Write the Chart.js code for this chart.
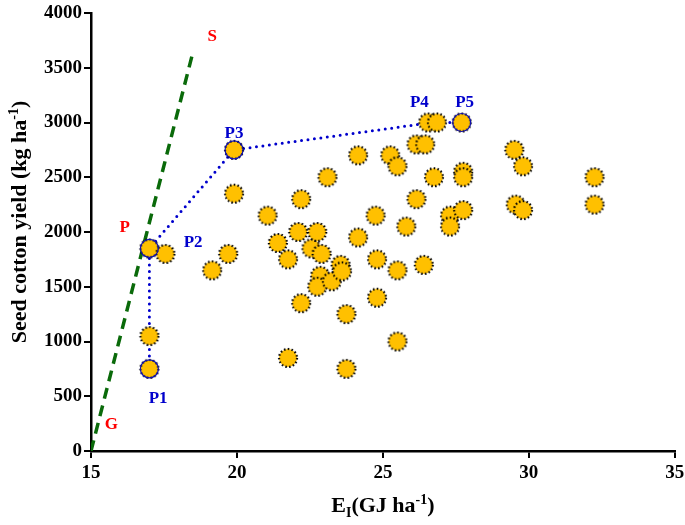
<!DOCTYPE html>
<html lang="en">
<head>
<meta charset="UTF-8">
<script src="https://cdn.jsdelivr.net/npm/chart.js"></script>
<title>Seed cotton yield vs energy input</title>
<style>
  html, body { margin: 0; padding: 0; background: #fff; }
  #wrap { width: 685px; height: 525px; }
</style>
</head>
<body>
<div id="wrap"><canvas id="chart" width="685" height="525"></canvas></div>
<script>
// energy input (GJ/ha) and seed cotton yield (kg/ha) of each farm
var energyIn = [17.0, 17.0, 17.0, 17.55, 19.15, 19.7, 19.9, 19.9, 21.05, 21.4,
  21.75, 21.75, 22.1, 22.2, 22.2, 22.55, 22.75, 22.9, 22.85, 22.75,
  23.1, 23.25, 23.55, 23.6, 23.75, 23.75, 24.15, 24.15, 24.75, 24.8,
  24.8, 25.25, 25.5, 25.5, 25.5, 25.8, 26.15, 26.45, 26.15, 26.4,
  26.55, 26.85, 27.7, 26.75, 27.3, 27.3, 27.75, 27.75, 27.75, 29.5,
  29.8, 29.55, 29.8, 32.25, 32.25];
var yieldKg = [750, 1050, 1850, 1800, 1650, 1800, 2350, 2750, 2150, 1900,
  1750, 850, 2000, 2300, 1350, 1850, 2000, 1800, 1600, 1500,
  2500, 1550, 1700, 1640, 1250, 750, 2700, 1950, 2150, 1750,
  1400, 2700, 2600, 1650, 1000, 2050, 2800, 2800, 2300, 1700,
  3000, 3000, 3000, 2500, 2150, 2050, 2550, 2500, 2200, 2750,
  2600, 2250, 2200, 2500, 2250];

// efficient frontier P1 -> P -> P3 -> P4 -> P5
var frontierX = [17.0, 17.0, 19.9, 26.7, 27.7];
var frontierY = [750, 1850, 2750, 3000, 3000];
// frontier farms that get a blue ring
var ringX = [17.0, 17.0, 19.9, 27.7];
var ringY = [750, 1850, 2750, 3000];

// G-S line
var gsX = [15, 18.5];
var gsY = [0, 3650];

// text marks placed in data units
var markText = ['S', 'P', 'G', 'P1', 'P2', 'P3', 'P4', 'P5'];
var markX = [19.15, 16.15, 15.7, 17.3, 18.5, 19.9, 26.25, 27.8];
var markY = [3780, 2040, 245, 475, 1900, 2900, 3180, 3180];
var markColor = ['red', 'red', 'red', '#0000CC', '#0000CC', '#0000CC', '#0000CC', '#0000CC'];

var xTicks = [15, 20, 25, 30, 35];
var yTicks = [0, 500, 1000, 1500, 2000, 2500, 3000, 3500, 4000];

var serif = '"Liberation Serif", "Times New Roman", serif';

// yellow dot with dotted black rim
function makeDot() {
  var c = document.createElement('canvas');
  c.width = 22; c.height = 22;
  var g = c.getContext('2d');
  g.beginPath();
  g.arc(11, 11, 9, 0, Math.PI * 2);
  g.fillStyle = '#FFC000';
  g.fill();
  g.setLineDash([1.6, 2.2]);
  g.lineWidth = 2.2;
  g.strokeStyle = '#000';
  g.stroke();
  return c;
}
var dot = makeDot();

function toPts(xs, ys) { return xs.map(function (x, i) { return { x: x, y: ys[i] }; }); }

var textPlugin = {
  id: 'marks',
  afterDatasetsDraw: function (chart) {
    var ctx = chart.ctx, xs = chart.scales.x, ys = chart.scales.y;
    ctx.save();
    ctx.font = 'bold 17px ' + serif;
    ctx.textAlign = 'center';
    ctx.textBaseline = 'middle';
    markText.forEach(function (t, i) {
      ctx.fillStyle = markColor[i];
      ctx.fillText(t, xs.getPixelForValue(markX[i]), ys.getPixelForValue(markY[i]));
    });
    ctx.restore();
  },
  afterDraw: function (chart) {
    var ctx = chart.ctx, a = chart.chartArea;
    ctx.save();
    ctx.fillStyle = '#000';
    ctx.textBaseline = 'alphabetic';
    // x title: E_I(GJ ha^-1)
    var big = 'bold 22px ' + serif, small = 'bold 14px ' + serif;
    var parts = [['E', big, 0], ['I', small, 5], ['(GJ ha', big, 0], ['-1', small, -8], [')', big, 0]];
    var w = 0;
    parts.forEach(function (p) { ctx.font = p[1]; w += ctx.measureText(p[0]).width; });
    var x = (a.left + a.right) / 2 - w / 2, y = 512;
    parts.forEach(function (p) {
      ctx.font = p[1];
      ctx.fillText(p[0], x, y + p[2]);
      x += ctx.measureText(p[0]).width;
    });
    // y title rotated
    ctx.translate(26, (a.top + a.bottom) / 2 - 10);
    ctx.rotate(-Math.PI / 2);
    var yparts = [['Seed cotton yield (kg ha', big, 0], ['-1', small, -8], [')', big, 0]];
    w = 0;
    yparts.forEach(function (p) { ctx.font = p[1]; w += ctx.measureText(p[0]).width; });
    x = -w / 2;
    yparts.forEach(function (p) {
      ctx.font = p[1];
      ctx.fillText(p[0], x, p[2]);
      x += ctx.measureText(p[0]).width;
    });
    ctx.restore();
  }
};

new Chart(document.getElementById('chart'), {
  type: 'scatter',
  data: {
    datasets: [
      {
        // blue rings on frontier farms (drawn on top)
        data: toPts(ringX, ringY),
        pointRadius: 9,
        pointBorderColor: '#1010B0',
        pointBackgroundColor: 'rgba(0,0,0,0)',
        pointBorderWidth: 1.2
      },
      {
        data: toPts(energyIn, yieldKg),
        pointStyle: dot,
        pointRadius: 9
      },
      {
        type: 'line',
        data: toPts(frontierX, frontierY),
        borderColor: '#0000CC',
        borderWidth: 3,
        borderDash: [0, 6.5],
        borderCapStyle: 'round',
        fill: false,
        tension: 0,
        pointRadius: 0
      },
      {
        type: 'line',
        data: toPts(gsX, gsY),
        borderColor: '#0A6A0A',
        borderWidth: 3.5,
        borderDash: [11, 7],
        fill: false,
        pointRadius: 0
      }
    ]
  },
  options: {
    responsive: false,
    animation: false,
    layout: { padding: { top: 13, right: 8, left: 0, bottom: 0 } },
    plugins: { legend: { display: false }, tooltip: { enabled: false } },
    scales: {
      x: {
        type: 'linear',
        min: 15, max: 35,
        afterBuildTicks: function (s) { s.ticks = xTicks.map(function (v) { return { value: v }; }); },
        afterFit: function (s) { s.height = 74; s.paddingRight = 0; s.paddingLeft = 0; },
        border: { color: '#000', width: 2.5 },
        grid: { drawOnChartArea: false, drawTicks: true, tickLength: 7, color: '#000', lineWidth: 2 },
        ticks: { color: '#000', padding: 4, maxRotation: 0, callback: function (v) { return String(v); },
          font: { family: serif, size: 19, weight: 'bold' } }
      },
      y: {
        type: 'linear',
        min: 0, max: 4000,
        afterBuildTicks: function (s) { s.ticks = yTicks.map(function (v) { return { value: v }; }); },
        afterFit: function (s) { s.width = 91; s.paddingTop = 0; s.paddingBottom = 0; },
        border: { color: '#000', width: 2.5 },
        grid: { drawOnChartArea: false, drawTicks: true, tickLength: 7, color: '#000', lineWidth: 2 },
        ticks: { color: '#000', padding: 2, callback: function (v) { return String(v); },
          font: { family: serif, size: 19, weight: 'bold' } }
      }
    }
  },
  plugins: [textPlugin]
});
</script>
</body>
</html>
